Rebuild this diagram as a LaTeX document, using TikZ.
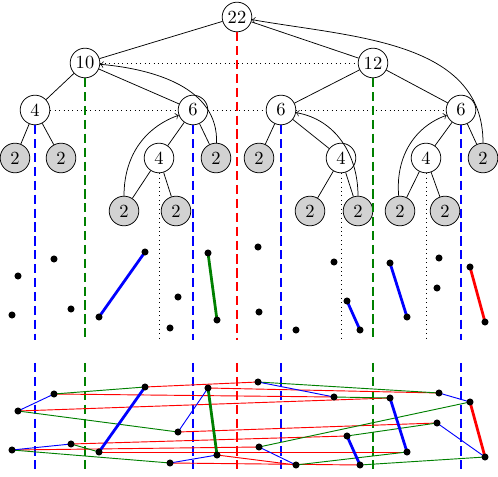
\documentclass[tikz,border=0pt]{standalone}
\colorlet{lvlgreen}{green!50!black}
\begin{document}
\begin{tikzpicture}[x=0.54pt, y=-0.54pt,
		knot/.style = {circle, draw, fill=white, minimum size=16pt, inner sep=0pt},
		leaf/.style = {knot, fill=gray!35},
		cutline/.style = {line width=0.7pt, dash pattern=on 5pt off 2.5pt},
		pair/.style = {line width=1.5pt},
		link/.style = {line width=0.5pt}]
	\useasboundingbox (0,0) rectangle (498,477);
	% tree
	\node[knot] (n) at (237,17) {22};
	\node[knot] (nl) at (85,63) {10};
	\node[knot] (nr) at (373,63) {12};
	\node[knot] (nll) at (35,110) {4};
	\node[knot] (nlr) at (193,110) {6};
	\node[knot] (nrl) at (281,110) {6};
	\node[knot] (nrr) at (461,110) {6};
	\node[leaf] (nlll) at (15,158) {2};
	\node[leaf] (nllr) at (61,158) {2};
	\node[knot] (nlrl) at (159,158) {4};
	\node[leaf] (nlrr) at (216,158) {2};
	\node[leaf] (nrll) at (259,158) {2};
	\node[knot] (nrlr) at (341,158) {4};
	\node[knot] (nrrl) at (426,158) {4};
	\node[leaf] (nrrr) at (483,158) {2};
	\node[leaf] (nlrll) at (124,211) {2};
	\node[leaf] (nlrlr) at (176,211) {2};
	\node[leaf] (nrlrl) at (310,211) {2};
	\node[leaf] (nrlrr) at (358,211) {2};
	\node[leaf] (nrrll) at (400,211) {2};
	\node[leaf] (nrrlr) at (445,211) {2};
	\foreach \a/\b in {n/nl, n/nr, nl/nll, nl/nlr, nll/nlll, nll/nllr, nlr/nlrl, nlr/nlrr, nlrl/nlrll, nlrl/nlrlr,
			nr/nrl, nr/nrr, nrl/nrll, nrl/nrlr, nrlr/nrlrl, nrlr/nrlrr, nrr/nrrl, nrr/nrrr, nrrl/nrrll, nrrl/nrrlr}
		\draw (\a) -- (\b);
	\draw [dotted] (nl) -- (nr);
	\draw [dotted] (nll) -- (nlr) -- (nrl) -- (nrr);
	\draw [->] (nlrll) to[out=90, in=200] (nlr);
	\draw [->] (nlrr) to[out=88, in=-5] (nl);
	\draw [->] (nrlrr) to[out=90, in=-10] (nrl);
	\draw [->] (nrrll) to[out=95, in=200] (nrr);
	\draw [->] (nrrr) to[out=90, in=-10] (n);
	% cuts
	\coordinate (gapt) at (0,340);
	\coordinate (gapb) at (0,363);
	\coordinate (base) at (0,472);
	\draw [color=red, cutline] (n.south) -- (n |- gapt) (n |- gapb) -- (n |- base);
	\foreach \nd in {nl, nr}
		\draw [color=lvlgreen, cutline] (\nd.south) -- (\nd |- gapt) (\nd |- gapb) -- (\nd |- base);
	\foreach \nd in {nll, nlr, nrl, nrr}
		\draw [color=blue, cutline] (\nd.south) -- (\nd |- gapt) (\nd |- gapb) -- (\nd |- base);
	\foreach \nd in {nlrl, nrlr, nrrl}
		\draw [dotted] (\nd.south) -- (\nd |- gapt);
	% points, and the same points shifted down
	\foreach \i/\x/\y in {1/12/315, 2/18/276, 3/54/259, 4/71/309, 5/99/317, 6/145/252, 7/170/328, 8/178/297,
			9/208/253, 10/217/320, 11/258/247, 12/259/312, 13/296/330, 14/334/262, 15/347/301, 16/360/330,
			17/390/263, 18/407/317, 19/439/258, 20/437/288, 21/470/267, 22/485/322} {
		\coordinate (p\i) at (\x,\y);
		\coordinate (q\i) at (\x,\y+135);
	}
	\foreach \a/\b in {1/12, 2/17, 3/14, 4/15, 5/18, 6/11, 7/16, 8/20, 9/19, 10/13}
		\draw [link, red] (q\a) -- (q\b);
	\foreach \a/\b in {3/6, 2/8, 4/5, 1/7, 11/19, 14/17, 12/21, 15/20, 13/18, 16/22}
		\draw [link, lvlgreen] (q\a) -- (q\b);
	\foreach \a/\b in {2/3, 1/4, 8/9, 7/10, 11/14, 12/13, 19/21, 20/22}
		\draw [link, blue] (q\a) -- (q\b);
	\foreach \a/\b/\col in {5/6/blue, 9/10/lvlgreen, 15/16/blue, 17/18/blue, 21/22/red} {
		\draw [pair, \col] (p\a) -- (p\b);
		\draw [pair, \col] (q\a) -- (q\b);
	}
	\foreach \i in {1,...,22}
		\fill (p\i) circle (1.9pt) (q\i) circle (1.9pt);
\end{tikzpicture}
\end{document}
